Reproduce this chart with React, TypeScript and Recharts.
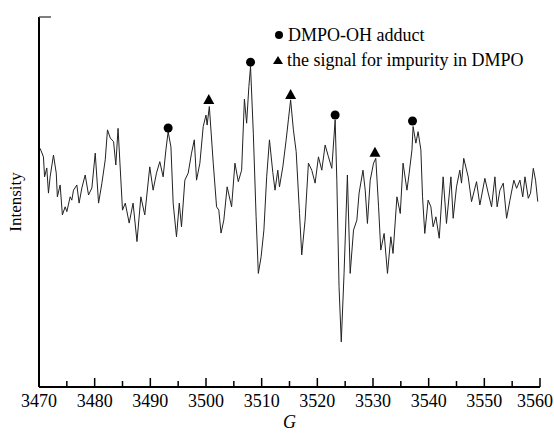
import React from 'react'
import { ComposedChart, Line, Scatter, XAxis, YAxis, Legend } from 'recharts'

// EPR spectrum, field in G, intensity in arbitrary units (0-100)
const fieldG = [
  3470.2, 3470.8, 3471.0, 3471.4, 3471.7, 3472.0, 3472.6, 3473.1, 3473.3, 3473.8,
  3474.2, 3474.7, 3475.0, 3475.6, 3475.9, 3476.2, 3476.8, 3477.2, 3477.7, 3478.3,
  3478.9, 3479.5, 3480.1, 3480.7, 3481.3, 3481.9, 3482.3, 3482.8, 3483.4, 3483.8,
  3484.2, 3485.0, 3485.5, 3486.2, 3486.9, 3487.6, 3488.3, 3489.0, 3489.9, 3490.5,
  3491.1, 3491.7, 3492.3, 3492.8, 3493.2, 3493.7, 3494.1, 3494.7, 3495.2, 3495.6,
  3496.2, 3496.8, 3497.4, 3497.9, 3498.3, 3498.9, 3499.5, 3500.0, 3500.2, 3500.6,
  3501.3, 3501.9, 3502.3, 3502.7, 3503.2, 3503.8, 3504.6, 3505.2, 3505.8, 3506.4,
  3506.9, 3507.3, 3507.7, 3508.0, 3508.5, 3509.0, 3509.4, 3509.9, 3510.4, 3510.9,
  3511.4, 3512.0, 3512.4, 3512.9, 3513.2, 3513.8, 3514.4, 3514.8, 3515.2, 3515.7,
  3516.2, 3516.8, 3517.2, 3517.8, 3518.4, 3519.0, 3519.6, 3520.2, 3520.8, 3521.4,
  3522.0, 3522.6, 3523.2, 3523.5, 3523.9, 3524.3, 3524.8, 3525.4, 3525.9, 3526.5,
  3527.1, 3527.5, 3528.2, 3528.6, 3529.0, 3529.5, 3530.1, 3530.5, 3531.0, 3531.4,
  3532.0, 3532.6, 3533.2, 3533.6, 3534.3, 3534.9, 3535.4, 3536.1, 3536.5, 3537.0,
  3537.2, 3537.7, 3538.1, 3538.6, 3538.9, 3539.3, 3539.9, 3540.4, 3540.8, 3541.3,
  3541.9, 3542.6, 3543.2, 3544.0, 3544.4, 3545.0, 3545.6, 3545.9, 3546.3, 3547.1,
  3547.7, 3548.6, 3549.2, 3550.1, 3550.7, 3551.3, 3551.9, 3552.3, 3552.8, 3553.4,
  3554.0, 3554.6, 3555.3, 3555.8, 3556.4, 3556.9, 3557.3, 3557.9, 3558.3, 3558.8,
  3559.2, 3559.6,
]
const intensity = [
  64.5, 62.2, 56.8, 59.2, 52.4, 56.8, 62.7, 57.8, 51.4, 54.6,
  46.5, 48.7, 47.4, 51.4, 50.5, 53.2, 54.6, 49.7, 53.8, 57.3,
  51.9, 53.8, 63.2, 49.7, 55.1, 61.4, 69.5, 67.3, 66.3, 60.0,
  69.9, 47.8, 49.7, 44.3, 49.7, 39.3, 51.4, 46.5, 59.5, 53.2,
  57.8, 60.9, 56.8, 64.1, 69.0, 64.9, 49.7, 40.6, 49.7, 43.3,
  55.9, 57.8, 63.2, 66.8, 55.9, 60.5, 70.4, 73.5, 70.8, 75.8,
  60.5, 48.7, 47.8, 41.6, 45.1, 54.1, 48.7, 60.5, 55.5, 58.6,
  77.8, 71.3, 81.2, 86.6, 68.6, 46.0, 30.7, 35.2, 42.4, 56.8,
  66.8, 58.0, 53.2, 58.6, 54.1, 59.5, 66.8, 72.2, 77.6, 69.5,
  63.6, 46.9, 35.7, 45.1, 60.5, 58.6, 55.1, 62.2, 58.6, 65.4,
  62.2, 59.1, 72.2, 55.9, 27.1, 12.2, 30.7, 57.3, 30.7, 42.4,
  45.1, 52.4, 58.6, 53.2, 44.2, 55.9, 60.5, 61.8, 48.7, 37.0,
  41.5, 30.7, 40.6, 36.1, 51.4, 46.9, 60.5, 53.2, 57.8, 64.1,
  70.4, 65.9, 69.0, 64.1, 51.4, 41.5, 50.5, 48.7, 43.3, 46.0,
  40.2, 56.8, 44.2, 56.8, 45.6, 54.1, 58.6, 55.1, 61.8, 56.8,
  50.1, 55.5, 49.2, 56.4, 52.4, 48.7, 56.8, 48.7, 53.2, 55.1,
  45.6, 50.5, 55.9, 53.7, 55.9, 51.4, 56.8, 51.0, 52.4, 59.1,
  55.9, 50.1,
]

// marker positions (circle = DMPO-OH adduct, triangle = impurity)
const adductG = [3493.2, 3508.0, 3523.2, 3537.1]
const adductV = [70.0, 87.8, 73.5, 71.9]
const impurityG = [3500.5, 3515.2, 3530.35]
const impurityV = [77.6, 78.9, 63.3]

const xTicks = [3470, 3475, 3480, 3485, 3490, 3495, 3500, 3505, 3510, 3515, 3520,
  3525, 3530, 3535, 3540, 3545, 3550, 3555, 3560]

const spectrum = fieldG.map((g, i) => ({ g, v: intensity[i] }))
const adduct = adductG.map((g, i) => ({ g, v: adductV[i] }))
const impurity = impurityG.map((g, i) => ({ g, v: impurityV[i] }))

const FONT = '"Liberation Serif", "DejaVu Serif", serif'

const XTick = (props: any) => {
  const { x, y, payload } = props
  const major = payload.value % 10 === 0
  // last label sits a bit inward so it stays on the page
  const lx = payload.value === 3560 ? x - 5 : x
  return (
    <g>
      <line x1={x} y1={y} x2={x} y2={y - (major ? 9 : 6)} stroke="#000" strokeWidth={1.5} />
      {major && (
        <text x={lx} y={y + 20} textAnchor="middle" fontFamily={FONT} fontSize={18} fill="#000">
          {payload.value}
        </text>
      )}
    </g>
  )
}

const YTick = (props: any) => {
  const { x, y } = props
  return <line x1={x} y1={y} x2={x + 12} y2={y} stroke="#555" strokeWidth={1.5} />
}

const Circle = (props: any) => <circle cx={props.cx} cy={props.cy} r={4.5} fill="#000" />
const Triangle = (props: any) => {
  const { cx, cy } = props
  return <polygon points={`${cx},${cy - 6} ${cx - 5.5},${cy + 4} ${cx + 5.5},${cy + 4}`} fill="#000" />
}

const LegendBox = () => (
  <svg width={280} height={50} style={{ overflow: 'visible' }}>
    <circle cx={9} cy={9} r={4} fill="#000" />
    <text x={18} y={15} fontFamily={FONT} fontSize={18} fill="#000">DMPO-OH adduct</text>
    <polygon points="8,30 3,38 13,38" fill="#000" />
    <text x={17} y={40} fontFamily={FONT} fontSize={18} fill="#000">the signal for impurity in DMPO</text>
  </svg>
)

export default function App() {
  return (
    <div style={{ position: 'absolute', left: 0, top: 0, width: 554, height: 434, background: '#fff' }}>
      <ComposedChart width={554} height={434} margin={{ top: 17, right: 14, bottom: 46, left: 38 }}>
        <XAxis
          dataKey="g"
          type="number"
          domain={[3470, 3560]}
          ticks={xTicks}
          interval={0}
          height={1}
          tickSize={0}
          tickMargin={0}
          tickLine={false}
          tick={<XTick />}
          axisLine={{ stroke: '#000', strokeWidth: 2 }}
          label={{ value: 'G', position: 'insideBottom', offset: -40, fontFamily: FONT, fontSize: 18, fontStyle: 'italic', fill: '#000' }}
        />
        <YAxis
          dataKey="v"
          type="number"
          domain={[0, 100]}
          ticks={[100]}
          width={1}
          tickSize={0}
          tickMargin={0}
          tickLine={false}
          tick={<YTick />}
          axisLine={{ stroke: '#000', strokeWidth: 2 }}
          label={{ value: 'Intensity', angle: -90, position: 'insideLeft', offset: -23, fontFamily: FONT, fontSize: 17, fill: '#000', style: { textAnchor: 'middle' } }}
        />
        <Legend
          layout="vertical"
          align="center"
          verticalAlign="middle"
          content={<LegendBox />}
          wrapperStyle={{ left: 270, top: 26, width: 280 }}
        />
        <Line
          data={spectrum}
          dataKey="v"
          type="linear"
          stroke="#222"
          strokeWidth={1}
          dot={false}
          activeDot={false}
          isAnimationActive={false}
        />
        <Scatter data={adduct} dataKey="v" shape={<Circle />} isAnimationActive={false} />
        <Scatter data={impurity} dataKey="v" shape={<Triangle />} isAnimationActive={false} />
      </ComposedChart>
    </div>
  )
}
